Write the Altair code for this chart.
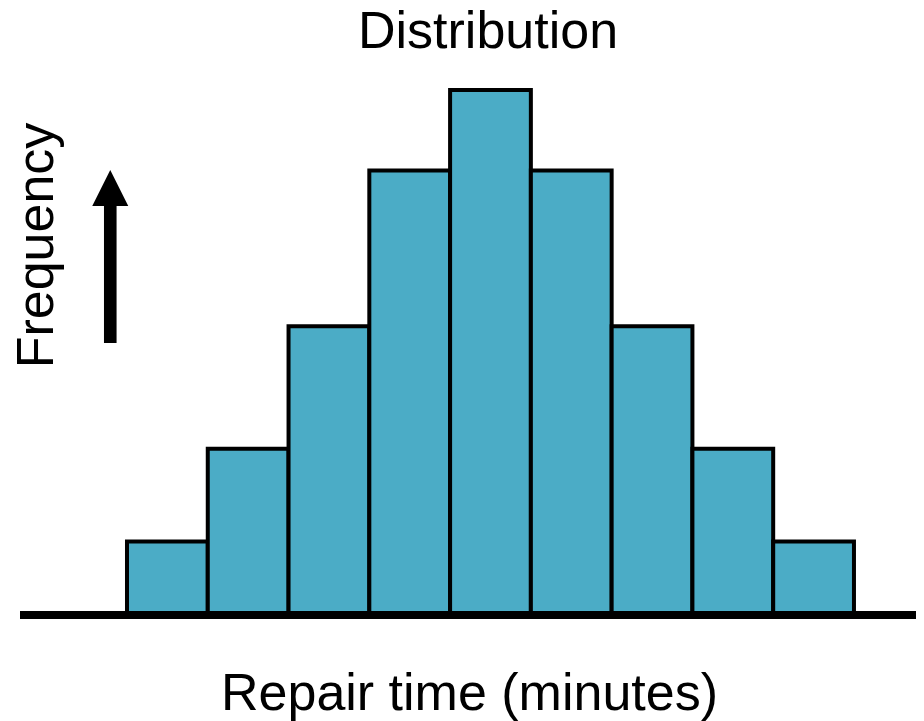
import altair as alt
import pandas as pd

# Histogram data (bins of repair time, relative frequency)
bin_start = [0, 1, 2, 3, 4, 5, 6, 7, 8]
bin_end = [1, 2, 3, 4, 5, 6, 7, 8, 9]
frequency = [4.2, 9.5, 16.5, 25.4, 30.0, 25.4, 16.5, 9.5, 4.2]

# Decorative arrow next to the y title (data units)
arrow_x = [-0.207]
arrow_tail = [15.55]
arrow_neck = [23.6]
arrow_head = [24.4]

bars_df = pd.DataFrame({"start": bin_start, "end": bin_end, "freq": frequency})
arrow_df = pd.DataFrame({"ax": arrow_x, "tail": arrow_tail, "neck": arrow_neck, "head": arrow_head})
base_df = pd.DataFrame({"zero": [0]})

FONT = "Liberation Sans"
xscale = alt.Scale(domain=[-1.3246, 9.768], nice=False, zero=False)
yscale = alt.Scale(domain=[0, 30], nice=False, zero=True)

xaxis = alt.Axis(
    title="Repair time (minutes)", domain=False, ticks=False, labels=False, grid=False,
    titleFont=FONT, titleFontSize=52, titleFontWeight="normal", titleColor="black",
    titleBaseline="alphabetic", titleX=449, titleY=94, titleAlign="center")
yaxis = alt.Axis(
    title="Frequency", domain=False, ticks=False, labels=False, grid=False,
    titleFont=FONT, titleFontSize=52, titleFontWeight="normal", titleColor="black",
    titleAngle=270, titleBaseline="alphabetic", titleX=32, titleY=155, titleAlign="center")

bars = alt.Chart(bars_df).mark_rect(
    fill="#4BACC6", stroke="black", strokeWidth=4
).encode(
    x=alt.X("start:Q", scale=xscale, axis=xaxis),
    x2="end:Q",
    y=alt.Y("freq:Q", scale=yscale, axis=yaxis),
    y2=alt.Y2(datum=0),
)

baseline = alt.Chart(base_df).mark_rule(color="black", strokeWidth=8, strokeCap="butt").encode(
    y=alt.Y("zero:Q", scale=yscale, axis=yaxis)
)

shaft = alt.Chart(arrow_df).mark_rule(color="black", strokeWidth=12.6, strokeCap="butt").encode(
    x=alt.X("ax:Q", scale=xscale, axis=xaxis),
    y=alt.Y("tail:Q", scale=yscale, axis=yaxis),
    y2="neck:Q",
)

head = alt.Chart(arrow_df).mark_point(
    shape="M0,-1L-1,1L1,1Z", size=1296, filled=True, color="black", opacity=1, strokeWidth=0
).encode(
    x=alt.X("ax:Q", scale=xscale, axis=xaxis),
    y=alt.Y("head:Q", scale=yscale, axis=yaxis),
)

chart = alt.layer(bars, baseline, shaft, head).properties(
    width=896,
    height=525,
    autosize=alt.AutoSizeParams(type="none"),
    padding={"left": 12, "top": 82, "right": 0, "bottom": 106},
    title=alt.TitleParams(
        "Distribution", font=FONT, fontSize=52, fontWeight="normal", color="black",
        baseline="alphabetic", offset=0, dx=20, dy=12, anchor="middle", frame="group"),
).configure(background="white", view=alt.ViewConfig(stroke=None))

chart.save("out.html", embed_options={"renderer": "svg", "actions": False})
